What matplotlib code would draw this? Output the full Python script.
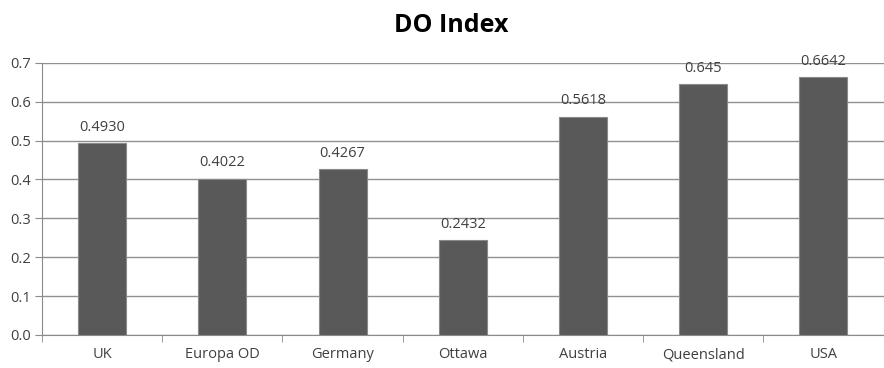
import matplotlib.pyplot as plt
import numpy as np

# chart data
countries = ['UK', 'Europa OD', 'Germany', 'Ottawa', 'Austria', 'Queensland', 'USA']
do_index = [0.4930, 0.4022, 0.4267, 0.2432, 0.5618, 0.645, 0.6642]
value_labels = ['0.4930', '0.4022', '0.4267', '0.2432', '0.5618', '0.645', '0.6642']

plt.rcParams['font.family'] = ['Open Sans', 'DejaVu Sans']

fig = plt.figure(figsize=(8.84, 3.68), dpi=100)
ax = fig.add_axes([0.0475, 0.09, 0.952, 0.739])

positions = np.arange(len(countries))
ax.bar(positions, do_index, width=0.4, color='#595959', edgecolor='#8a8a8a',
       linewidth=0.8, zorder=3)

# value labels above each bar
for p, v, lab in zip(positions, do_index, value_labels):
    ax.annotate(lab, (p, v), xytext=(0, 6), textcoords='offset points',
                ha='center', va='bottom', fontsize=10.5, color='#404040')

ax.set_xlim(-0.5, len(countries) - 0.5)
ax.set_ylim(0, 0.7)
ax.set_yticks(np.arange(0, 0.71, 0.1))
ax.set_yticklabels([f'{t:.1f}' for t in np.arange(0, 0.71, 0.1)])
ax.set_xticks(positions)
ax.set_xticklabels(countries)
ax.set_xticks(np.arange(-0.5, len(countries), 1), minor=True)
ax.tick_params(axis='x', which='major', length=0, pad=9, labelsize=10.5, colors='#404040')
ax.tick_params(axis='x', which='minor', length=5, color='#8a8a8a', direction='out')
ax.tick_params(axis='y', length=5, color='#8a8a8a', labelsize=10.5, labelcolor='#404040', pad=3)

ax.grid(axis='y', color='#909090', linewidth=1, zorder=0)
for s in ['top', 'right']:
    ax.spines[s].set_visible(False)
ax.spines['left'].set_color('#8a8a8a')
ax.spines['bottom'].set_color('#8a8a8a')

fig.suptitle('DO Index', fontsize=18, fontweight='bold', y=0.965, x=0.51)

fig.savefig('out.png', dpi=100)
